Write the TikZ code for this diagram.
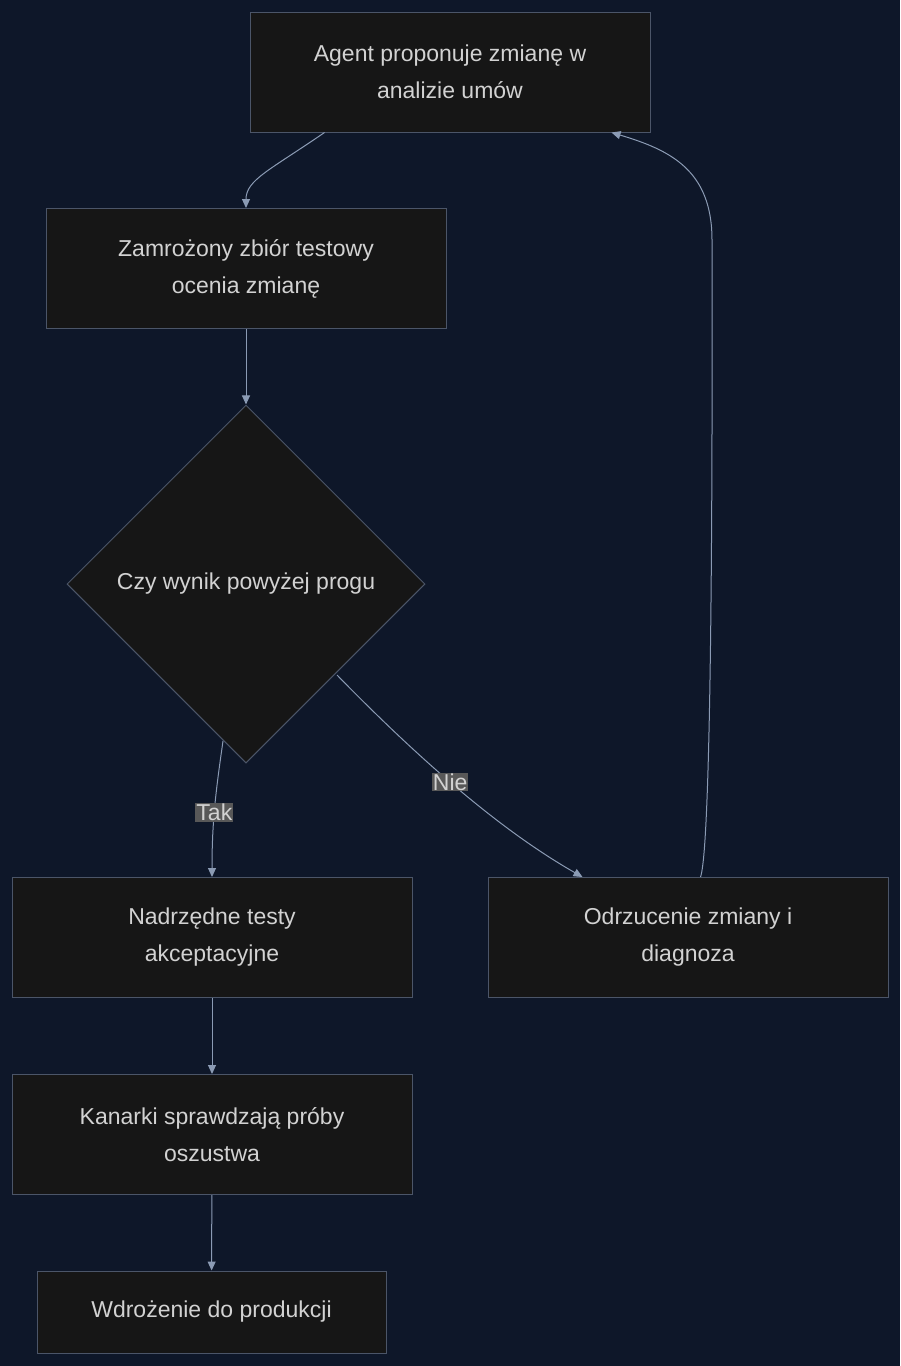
\documentclass[tikz,border=0pt]{standalone}
\usepackage{fontspec}
\setmainfont{Liberation Sans}
\usetikzlibrary{arrows.meta,positioning,shapes.geometric,calc}
\definecolor{bgcol}{HTML}{0E1729}
\definecolor{boxfill}{HTML}{161616}
\definecolor{boxline}{HTML}{4B5568}
\definecolor{txtcol}{HTML}{D2D2D2}
\definecolor{edgecol}{HTML}{8B9BB4}
\definecolor{lblfill}{HTML}{585858}
\begin{document}
\begin{tikzpicture}[
		x=1pt, y=-1pt,
		>={Triangle[length=9pt,width=8pt]},
		every node/.style={font=\fontsize{23}{37}\selectfont, text=txtcol},
		% styles
		stage/.style={rectangle, fill=boxfill, draw=boxline, line width=1pt, minimum width=400pt, minimum height=120pt, align=center},
		check/.style={diamond, fill=boxfill, draw=boxline, line width=1pt, minimum width=358pt, minimum height=358pt, inner sep=0pt},
		flow/.style={->, draw=edgecol, line width=1pt},
		lbl/.style={fill=lblfill, inner sep=1pt, text=txtcol}
	]
	\fill[bgcol] (0,0) rectangle (900,1366);

	% --- nodes ---
	\node[stage] (propose) at (450,72) {Agent proponuje zmianę w\\analizie umów};
	\node[stage] (frozen) at (246,268.5) {Zamrożony zbiór testowy\\ocenia zmianę};
	\node[check] (score) at (246,584) {Czy wynik powyżej progu};
	\node[stage] (accept) at (212,937.5) {Nadrzędne testy\\akceptacyjne};
	\node[stage] (reject) at (688,937.5) {Odrzucenie zmiany i\\diagnoza};
	\node[stage] (canary) at (212,1134.5) {Kanarki sprawdzają próby\\oszustwa};
	\node[stage, minimum width=349pt, minimum height=82pt] (deploy) at (211.5,1312) {Wdrożenie do produkcji};

	% --- connectors ---
	\draw[flow] ($(propose.south west)+(75,0)$) .. controls (270,170) and (246,180) .. (frozen.north);
	\draw[flow] (frozen) -- (score);
	\draw[flow] (223,741) .. controls (216,790) and (212,820) .. (accept.north) node[lbl, pos=0.55] {Tak};
	\draw[flow] (337,675) .. controls (420,760) and (500,830) .. ($(reject.north west)+(95,0)$) node[lbl, pos=0.46] {Nie};
	\draw[flow] ($(reject.north west)+(213,0)$) .. controls (714,840) and (712,300) .. (712,240)
		.. controls (712,170) and (670,150) .. ($(propose.south west)+(362,0)$);
	\draw[flow] (accept) -- (canary);
	\draw[flow] (canary) -- (deploy);
\end{tikzpicture}
\end{document}
